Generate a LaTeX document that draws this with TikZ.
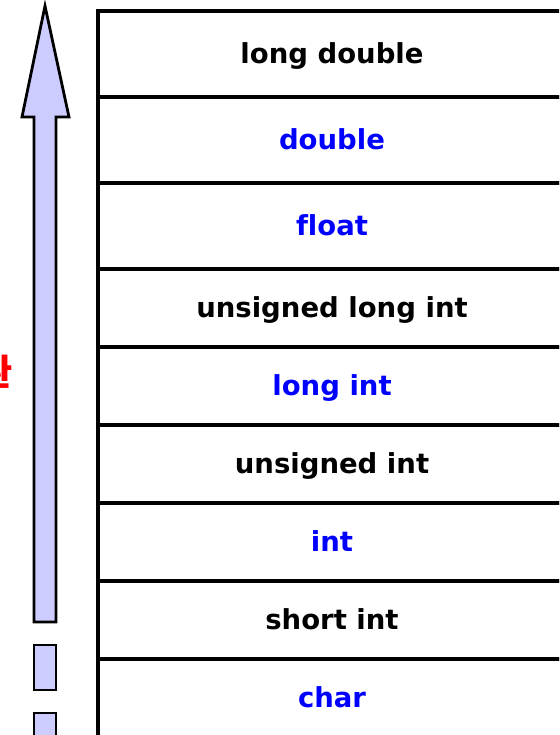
\documentclass[tikz,border=0pt]{standalone}
\usepackage{fontspec}
\setmainfont[Ligatures=NoCommon]{DejaVu Sans}
\newfontfamily\krfont{Noto Sans CJK KR}
\usetikzlibrary{positioning}
\definecolor{typeblue}{RGB}{0,0,255}
\definecolor{arrowfill}{RGB}{204,204,255}
\definecolor{convred}{RGB}{255,0,0}

\begin{document}
\begin{tikzpicture}[x=1pt, y=-1pt,
          row/.style={rectangle, draw, line width=3.2pt, minimum width=468pt,
                      inner sep=0pt, text depth=2pt,
                      font=\fontsize{27.5}{32}\selectfont\bfseries},
          tall/.style={row, minimum height=86pt},
          short/.style={row, minimum height=78pt},
          promo/.style={text=typeblue},
          shaft/.style={draw, fill=arrowfill, line width=2.8pt, line join=miter}]
          \useasboundingbox (0,0) rectangle (559,735);
          \clip (0,0) rectangle (559,735);

          % Type rows
          \node[tall] (ld) at (332,54) {long double};
          \node[tall, promo] (d) at (332,140) {double};
          \node[tall, promo] (f) at (332,226) {float};
          \node[short] (uli) at (332,308) {unsigned long int};
          \node[short, promo] (li) at (332,386) {long int};
          \node[short] (ui) at (332,464) {unsigned int};
          \node[short, promo] (i) at (332,542) {int};
          \node[short] (si) at (332,620) {short int};
          \node[short, promo] (c) at (332,698) {char};

          % Conversion arrow
          \draw[shaft] (45,6) -- (69,117) -- (56,117) -- (56,622)
                       -- (34,622) -- (34,117) -- (22,117) -- cycle;
          \draw[shaft] (34,645) rectangle (56,690);
          \draw[shaft] (34,713) rectangle (56,745);

          % Label (cut at the left edge)
          \node[anchor=east, text=convred, inner sep=0pt,
                font=\krfont\fontsize{36}{40}\selectfont\bfseries]
                (conv) at (13,372) {변환};
        \end{tikzpicture}
\end{document}
